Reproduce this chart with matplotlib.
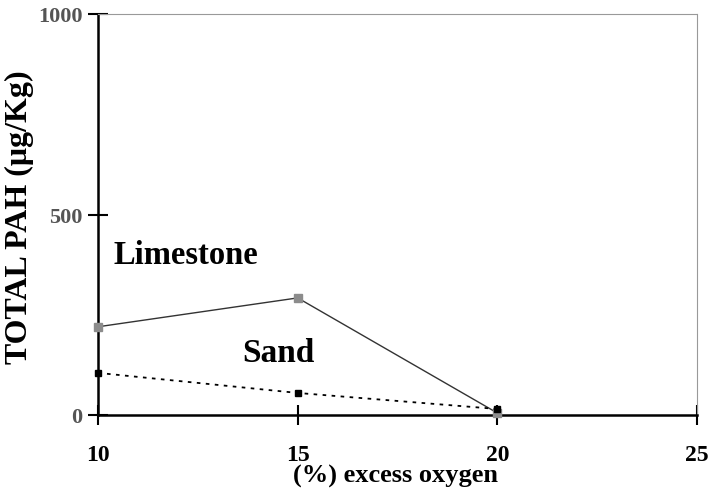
import matplotlib.pyplot as plt

# Data
oxygen = [10, 15, 20]
limestone = [220, 292, 5]
sand = [105, 55, 15]

plt.rcParams['font.family'] = ['Liberation Serif', 'DejaVu Serif']
plt.rcParams['font.weight'] = 'bold'

fig = plt.figure(figsize=(7.12, 4.89), dpi=100)
ax = fig.add_axes([98 / 712, 73 / 489, 599 / 712, 401 / 489])

ax.plot(oxygen, limestone, '-s', color='#333333', lw=1.0, ms=6,
        mfc='#8c8c8c', mec='#8c8c8c', zorder=3, clip_on=False)
ax.plot(oxygen, sand, 's', color='black', ls=(0, (2, 3)), lw=1.3, ms=4.5,
        mfc='black', mec='black', zorder=3, clip_on=False)

ax.text(12.2, 401, 'Limestone', fontsize=23.5, fontweight='bold', ha='center', va='center')
ax.text(14.53, 157, 'Sand', fontsize=24, fontweight='bold', ha='center', va='center')

ax.set_xlim(10, 25)
ax.set_ylim(0, 1000)
ax.set_xticks([10, 15, 20, 25])
ax.set_yticks([0, 500, 1000])

for s in ['top', 'right']:
    ax.spines[s].set_color('#999999')
    ax.spines[s].set_linewidth(0.8)
    ax.spines[s].set_linestyle((0, (3, 1)))
for s in ['left', 'bottom']:
    ax.spines[s].set_linewidth(1.8)

ax.tick_params(axis='x', direction='inout', length=14, width=1.5, pad=14, labelsize=17)
ax.tick_params(axis='y', direction='inout', length=14, width=1.5, pad=4, labelsize=16,
               labelcolor='#555555')
for lab in ax.get_xticklabels() + ax.get_yticklabels():
    lab.set_fontweight('bold')

ax.set_xlabel('(%) excess oxygen', fontsize=19, fontweight='bold')
ax.set_ylabel('TOTAL PAH (\u03bcg/Kg)', fontsize=23, fontweight='bold')
ax.xaxis.set_label_coords(0.496, -0.123)
ax.yaxis.set_label_coords(-0.107, 0.496)

fig.savefig('out.png', dpi=100)
